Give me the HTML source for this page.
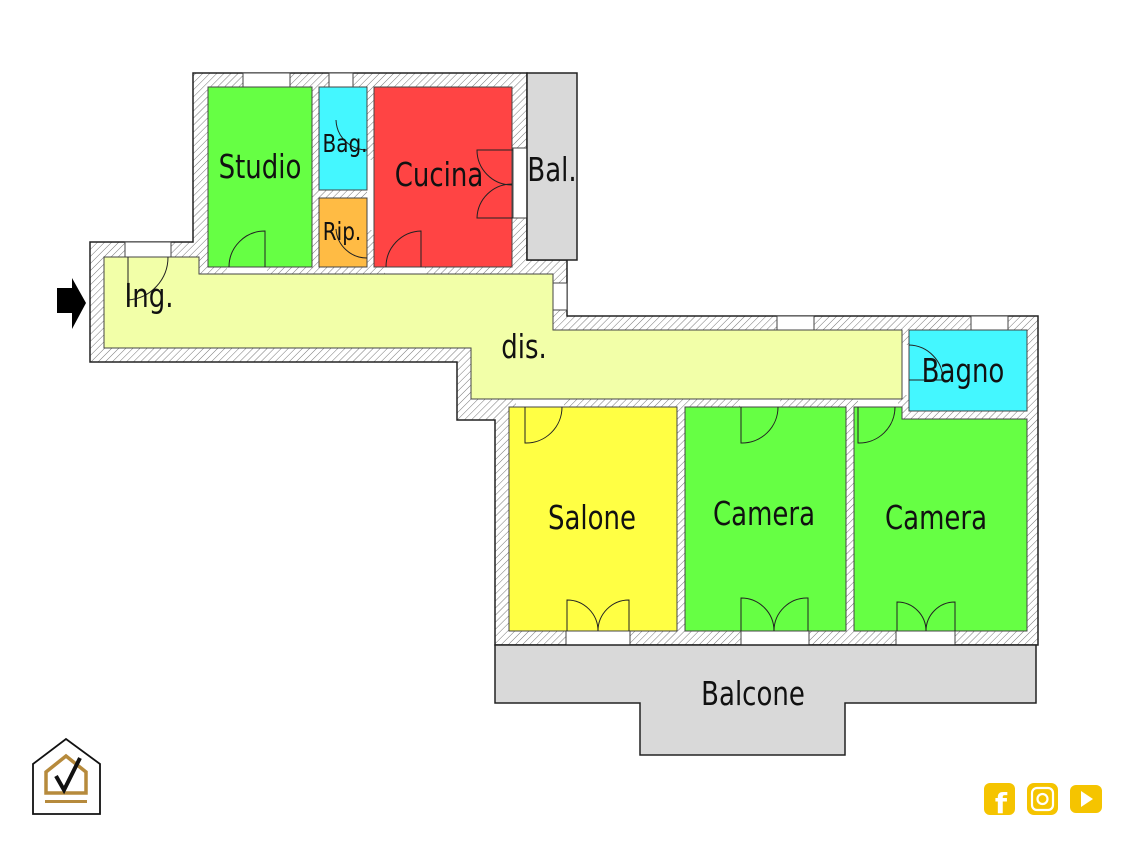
<!DOCTYPE html>
<html><head><meta charset="utf-8"><style>
html,body{margin:0;padding:0;background:#fff;}
svg{display:block;}
text{font-family:"DejaVu Sans","Liberation Sans",sans-serif;fill:#111;}
</style></head><body>
<svg width="1133" height="850" viewBox="0 0 1133 850" xmlns="http://www.w3.org/2000/svg">
<defs>
<pattern id="h" width="5" height="5" patternUnits="userSpaceOnUse" patternTransform="rotate(45)">
<rect width="5" height="5" fill="#fff"/><line x1="0" y1="0" x2="0" y2="5" stroke="#777" stroke-width="1"/>
</pattern>
</defs>
<path d="M193,73 L527,73 L527,260 L567,260 L567,316 L1038,316 L1038,645 L495,645 L495,420 L457,420 L457,362 L90,362 L90,242 L193,242 Z" fill="url(#h)" stroke="#222" stroke-width="1.5"/>
<g fill="#fff" stroke="#444" stroke-width="1">
<rect x="243" y="73" width="47" height="14"/>
<rect x="329" y="73" width="24" height="14"/>
<rect x="125" y="242" width="46" height="15"/>
<rect x="553" y="283" width="14" height="27"/>
<rect x="777" y="316" width="37" height="14"/>
<rect x="971" y="316" width="37" height="14"/>
<rect x="566" y="631" width="64" height="14"/>
<rect x="741" y="631" width="68" height="14"/>
<rect x="896" y="631" width="59" height="14"/>
<rect x="513" y="148" width="14" height="70"/>
</g>
<g fill="#fff">
<rect x="227" y="267" width="40" height="7"/>
<rect x="385" y="267" width="40" height="7"/>
<rect x="367" y="160" width="7" height="70"/>
<rect x="902" y="345" width="8" height="50"/>
<rect x="516" y="399" width="48" height="8"/>
<rect x="740" y="399" width="40" height="8"/>
<rect x="858" y="399" width="40" height="8"/>
</g>
<rect x="527" y="73" width="50" height="187" fill="#d9d9d9" stroke="#222" stroke-width="1.5"/>
<path d="M104,257 L199,257 L199,274 L553,274 L553,330 L902,330 L902,399 L471,399 L471,348 L104,348 Z" fill="#f2ffa8" stroke="#444" stroke-width="1"/>
<g stroke="#444" stroke-width="1">
<rect x="208" y="87" width="104" height="180" fill="#66ff44"/>
<rect x="319" y="87" width="48" height="103" fill="#44f7ff"/>
<rect x="319" y="198" width="48" height="69" fill="#ffbb44"/>
<rect x="374" y="87" width="138" height="180" fill="#ff4444"/>
<rect x="909" y="330" width="118" height="81" fill="#44f7ff"/>
<rect x="509" y="407" width="168" height="224" fill="#ffff44"/>
<rect x="685" y="407" width="161" height="224" fill="#66ff44"/>
<path d="M854,407 L902,407 L902,419 L1027,419 L1027,631 L854,631 Z" fill="#66ff44"/>
</g>
<path d="M495,645 L1036,645 L1036,703 L845,703 L845,755 L640,755 L640,703 L495,703 Z" fill="#d9d9d9" stroke="#222" stroke-width="1.5"/>
<g fill="none" stroke="#222" stroke-width="1">
<path d="M265,267 L265,231 A36,36 0 0 0 229,267"/>
<path d="M421,267 L421,231 A36,36 0 0 0 386,267"/>
<path d="M367,150 A31,31 0 0 1 336,120" />
<path d="M367,258 A31,31 0 0 1 336,229" />
<path d="M513,150 L477,150 A35,35 0 0 0 512,185"/>
<path d="M513,218 L477,218 A35,35 0 0 1 512,184"/>
<path d="M128,257 L128,300 A43,43 0 0 0 168,257"/>
<path d="M525,407 L525,443 A36,36 0 0 0 562,407"/>
<path d="M741,407 L741,443 A36,36 0 0 0 778,407"/>
<path d="M858,407 L858,443 A36,36 0 0 0 895,407"/>
<path d="M909,345 A35,35 0 0 1 943,380 L909,380"/>
<path d="M567,631 L567,600 A31,31 0 0 1 598,631 A31,31 0 0 1 629,600 L629,631"/>
<path d="M741,631 L741,598 A33,33 0 0 1 774,631 A33,33 0 0 1 808,598 L808,631"/>
<path d="M897,631 L897,602 A29,29 0 0 1 926,631 A29,29 0 0 1 955,602 L955,631"/>
</g>
<path d="M57,288 L72,288 L72,278 L86,303 L72,329 L72,313 L57,313 Z" fill="#000"/>
<g font-size="26" text-anchor="middle">
<text transform="translate(260,178) scale(1,1.25)">Studio</text>
<text transform="translate(345,152) scale(1,1.25)" font-size="20">Bag.</text>
<text transform="translate(342,240) scale(1,1.25)" font-size="20">Rip.</text>
<text transform="translate(439,186) scale(1,1.25)">Cucina</text>
<text transform="translate(552,181) scale(1,1.25)">Bal.</text>
<text transform="translate(149,307) scale(1,1.25)">Ing.</text>
<text transform="translate(524,358) scale(1,1.25)">dis.</text>
<text transform="translate(963,382) scale(1,1.25)">Bagno</text>
<text transform="translate(592,529) scale(1,1.25)">Salone</text>
<text transform="translate(764,525) scale(1,1.25)">Camera</text>
<text transform="translate(936,529) scale(1,1.25)">Camera</text>
<text transform="translate(753,705) scale(1,1.25)">Balcone</text>
</g>
<path d="M33,764 L66,739 L100,764 L100,814 L33,814 Z" fill="none" stroke="#111" stroke-width="1.8"/>
<path d="M46,772 L66,756 L86,772 L86,793 L46,793 Z" fill="none" stroke="#b68a3c" stroke-width="3.5"/>
<rect x="45" y="800" width="42" height="3" fill="#b68a3c"/>
<path d="M56,776 L64,790 L80,758" fill="none" stroke="#111" stroke-width="4"/>
<rect x="984" y="783" width="31" height="32" rx="6" fill="#f5c400"/>
<text x="1001" y="813" font-size="28" font-weight="bold" style="fill:#fff" text-anchor="middle">f</text>
<rect x="1027" y="783" width="31" height="32" rx="7" fill="#f5c400"/>
<rect x="1032" y="788" width="21" height="22" rx="5" fill="none" stroke="#fff" stroke-width="2.2"/>
<circle cx="1042.5" cy="799" r="5" fill="none" stroke="#fff" stroke-width="2.2"/>
<rect x="1070" y="785" width="32" height="28" rx="6" fill="#f5c400"/>
<path d="M1081,791 L1093,799 L1081,807 Z" fill="#fff"/>
</svg>
</body></html>
